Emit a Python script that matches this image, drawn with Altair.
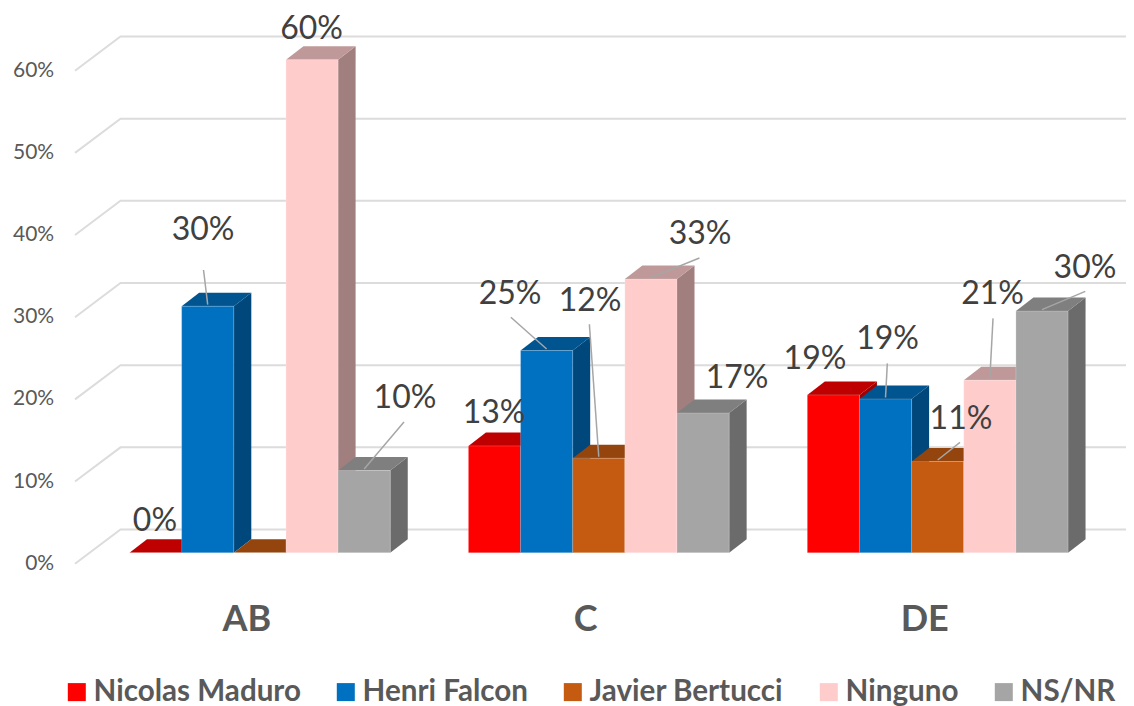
import altair as alt
import pandas as pd

# --- chart values ---
GROUPS = ["AB", "C", "DE"]
SERIES = ["Nicolas Maduro", "Henri Falcon", "Javier Bertucci", "Ninguno", "NS/NR"]
VALUES = {
    "AB": [0, 30, 0, 60, 10],
    "C": [13, 24.6, 11.5, 33.3, 17],
    "DE": [19.2, 18.7, 11.1, 21, 29.4],
}
LABELS = {
    "AB": ["0%", "30%", None, "60%", "10%"],
    "C": ["13%", "25%", "12%", "33%", "17%"],
    "DE": ["19%", "19%", "11%", "21%", "30%"],
}
TICKS = [0, 10, 20, 30, 40, 50, 60]

# --- styles ---
FRONT = ["#FF0000", "#0070C0", "#C55A11", "#FFCCCC", "#A5A5A5"]
TOP = ["#BF0000", "#00548F", "#94440D", "#BF9999", "#7F7F7F"]
SIDE = ["#A10000", "#00487C", "#7C390B", "#A17F7E", "#6B6B6B"]
GRID = "#DCDCDC"
FONT = "Lato"

# --- layout (image pixels for x, percent units for y) ---
PX = 8.217            # pixels per percentage point
FLOOR = 552.7         # image y of value 0 at the bars' front
GROUP_START, GROUP_STEP, SLOT = 129.5, 338.9, 52.15
DEPTH_X, DEPTH_Y = 17.5, 13.5 / PX
LEFT, WALL = 75, 120.5
W, H = 1118, 698

# offset of each label centre from the top-centre of its bar (px)
LABEL_OFF = {
    "AB": [(-0.6, -33.7), (-4.7, -77.7), None, (-0.5, -32.7), (40.8, -74.5)],
    "C": [(-0.4, -34.9), (-36.5, -58.1), (-8.7, -159.7), (49.2, -47.1), (34, -37.5)],
    "DE": [(-18.4, -37.9), (2, -62), (23.3, -44), (2.7, -88.1), (43, -45.1)],
}
# offset of the free end of each leader line from the top-centre of its bar (px)
LEADER_OFF = {
    "AB": [None, (-4.2, -36.2), None, None, (39.8, -48.5)],
    "C": [None, (-35.8, -33.3), (-9.4, -133.9), (48.5, -21.1), None],
    "DE": [None, (1.8, -35.7), (22.3, -19.2), (3.2, -61.8), (43.3, -19.8)],
}

xs = alt.Scale(domain=[8, 8 + W], range=[0, W], nice=False, zero=False)
ys = alt.Scale(
    domain=[(FLOOR - (8 + H)) / PX, (FLOOR - 8) / PX],
    range=[H, 0], nice=False, zero=False,
)
y_axis = alt.Axis(
    values=TICKS, labelExpr="datum.value + '%'", domain=False, ticks=False,
    grid=False, labelFontSize=21, labelFont=FONT, labelColor="#595959",
    offset=-47.7, labelPadding=2, labelOffset=10.5, title=None,
)
X = alt.X("x:Q", scale=xs, axis=None)
Y = alt.Y("y:Q", scale=ys, axis=y_axis)
Y2 = alt.Y2("y2:Q")

layers = []

# back wall and left side gridlines
grid_rows = []
for t in TICKS:
    grid_rows += [
        {"tick": t, "x": LEFT, "y": t - 11 / PX},
        {"tick": t, "x": WALL, "y": t + 23.2 / PX},
        {"tick": t, "x": 8 + W, "y": t + 23.2 / PX},
    ]
layers.append(
    alt.Chart(pd.DataFrame(grid_rows))
    .mark_line(color=GRID, strokeWidth=2)
    .encode(x=X, y=Y, detail="tick:N")
)

text_rows, leader_rows = [], []
for g, group in enumerate(GROUPS):
    for s, name in enumerate(SERIES):
        v = VALUES[group][s]
        x0 = GROUP_START + g * GROUP_STEP + s * SLOT
        x1 = x0 + SLOT
        side = pd.DataFrame({
            "x": [x1, x1 + DEPTH_X],
            "y": [0, DEPTH_Y],
            "y2": [v, v + DEPTH_Y],
        })
        top = pd.DataFrame({
            "x": [x0, x0 + DEPTH_X, x1, x1 + DEPTH_X],
            "y": [v, v, v, v + DEPTH_Y],
            "y2": [v, v + DEPTH_Y, v + DEPTH_Y, v + DEPTH_Y],
        })
        front = pd.DataFrame({"x": [x0], "x2": [x1], "y": [0], "y2": [v], "series": [name]})
        if v > 0:
            layers.append(alt.Chart(side).mark_area(color=SIDE[s], interpolate="linear")
                          .encode(x=X, y=Y, y2=Y2))
        layers.append(alt.Chart(top).mark_area(color=TOP[s], interpolate="linear")
                      .encode(x=X, y=Y, y2=Y2))
        layers.append(
            alt.Chart(front).mark_rect(stroke="#FFFFFF", strokeOpacity=0.2, strokeWidth=1)
            .encode(
                x=X, x2="x2:Q", y=Y, y2=Y2,
                color=alt.Color(
                    "series:N", title=None,
                    scale=alt.Scale(domain=SERIES, range=FRONT),
                    sort=SERIES,
                    legend=alt.Legend(
                        orient="none", legendX=54, legendY=669, direction="horizontal",
                        columns=5, symbolType="square", symbolSize=324, symbolStrokeWidth=0,
                        labelFont=FONT, labelFontSize=29.6, labelFontWeight="bold",
                        labelColor="#595959", columnPadding=30, labelOffset=2, padding=0,
                        labelLimit=300, symbolOpacity=1,
                    ),
                ),
            )
        )
        cx = (x0 + x1) / 2
        if LABELS[group][s]:
            dx, dy = LABEL_OFF[group][s]
            text_rows.append({"x": cx + dx, "y": v - dy / PX, "t": LABELS[group][s]})
        if LEADER_OFF[group][s]:
            dx, dy = LEADER_OFF[group][s]
            key = f"{group}{s}"
            leader_rows += [
                {"k": key, "x": cx + dx, "y": v - dy / PX},
                {"k": key, "x": cx, "y": v + 1.5 / PX},
            ]

layers.append(
    alt.Chart(pd.DataFrame(leader_rows)).mark_line(color="#A6A6A6", strokeWidth=1.5)
    .encode(x=X, y=Y, detail="k:N")
)
layers.append(
    alt.Chart(pd.DataFrame(text_rows))
    .mark_text(font=FONT, fontSize=32, color="#404040", baseline="middle", align="center", dy=2)
    .encode(x=X, y=Y, text="t:N")
)
cat = pd.DataFrame({
    "x": [GROUP_START + g * GROUP_STEP + 5 * SLOT / 2 - 13 for g in range(len(GROUPS))],
    "y": [(FLOOR - 617.5) / PX] * len(GROUPS),
    "t": GROUPS,
})
layers.append(
    alt.Chart(cat)
    .mark_text(font=FONT, fontSize=36, fontWeight="bold", color="#595959", baseline="middle", align="center", dy=2)
    .encode(x=X, y=Y, text="t:N")
)

chart = (
    alt.layer(*layers)
    .properties(width=W, height=H, padding=0, autosize=alt.AutoSizeParams(type="none"))
    .configure_view(strokeWidth=0)
)
chart.save("out.html", embed_options={"renderer": "svg", "actions": False})
